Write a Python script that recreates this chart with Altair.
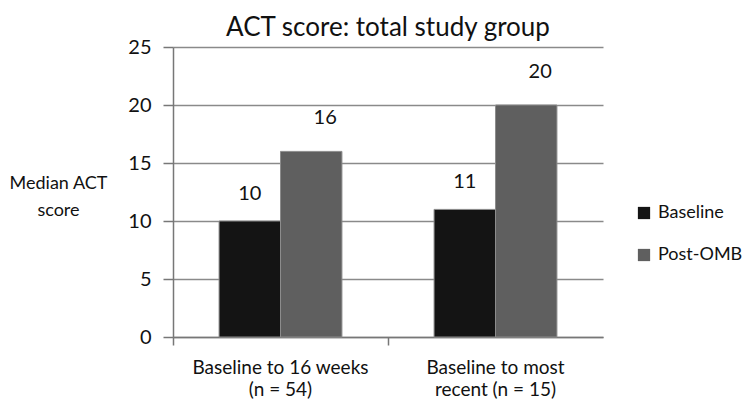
import altair as alt
import pandas as pd

groups = ["Baseline to 16 weeks|(n = 54)", "Baseline to most|recent (n = 15)"]
series = ["Baseline", "Post-OMB"]
baseline = [10, 11]
post_omb = [16, 20]
colors = ["#141414", "#5f5f5f"]

rows = []
for g, b, p in zip(groups, baseline, post_omb):
    rows.append({"group": g, "series": series[0], "value": b})
    rows.append({"group": g, "series": series[1], "value": p})
df = pd.DataFrame(rows)

FONT = "Lato"

x_enc = alt.X(
    "group:N", sort=groups, title=None,
    scale=alt.Scale(paddingInner=0, paddingOuter=0),
    axis=alt.Axis(
        labelExpr="split(datum.label, '|')", labelAngle=0, labelFontSize=19,
        labelLineHeight=22, labelPadding=13, labelColor="#111", labelLimit=400,
        ticks=True, tickSize=8, tickColor="#777", tickWidth=1.5, bandPosition=0,
        domainColor="#777", domainWidth=1.5, grid=False,
    ),
)
y_enc = alt.Y(
    "value:Q",
    scale=alt.Scale(domain=[0, 25], nice=False),
    axis=alt.Axis(
        values=[0, 5, 10, 15, 20, 25], title="Median ACT|score".split("|"),
        titleAngle=0, titleX=-115, titleY=136, titleAlign="center",
        titleBaseline="middle", titleFontSize=18, titleFontWeight="normal",
        titleLineHeight=27, titleColor="#111",
        labelFontSize=20, labelPadding=12, labelColor="#111",
        tickSize=10, tickColor="#777", tickWidth=1.5,
        domainColor="#777", domainWidth=1.5,
        grid=True, gridColor="#8a8a8a", gridWidth=1.5,
    ),
)
xoff = alt.XOffset("series:N", sort=series,
                   scale=alt.Scale(paddingOuter=0.75, paddingInner=0))

bars = alt.Chart(df).mark_bar(stroke="#8c8c8c", strokeWidth=1).encode(
    x=x_enc, y=y_enc, xOffset=xoff,
    color=alt.Color(
        "series:N", sort=series,
        scale=alt.Scale(domain=series, range=colors),
        legend=alt.Legend(
            title=None, orient="none", legendX=462, legendY=157,
            symbolType="square", symbolSize=150, symbolStrokeWidth=0,
            labelFontSize=18, labelColor="#111", rowPadding=24, labelOffset=5,
            labelLimit=200,
        ),
    ),
)

lab_base = alt.Chart(df).transform_filter(alt.datum.series == series[0]).mark_text(
    fontSize=20, font=FONT, dy=-27, baseline="middle", color="#111"
).encode(x=alt.X("group:N", sort=groups), y="value:Q", xOffset=xoff, text="value:Q")

lab_post = alt.Chart(df).transform_filter(alt.datum.series == series[1]).mark_text(
    fontSize=20, font=FONT, dy=-33, dx=14, baseline="middle", color="#111"
).encode(x=alt.X("group:N", sort=groups), y="value:Q", xOffset=xoff, text="value:Q")

chart = alt.layer(bars, lab_base, lab_post).properties(
    width=430, height=290,
    title=alt.Title("ACT score: total study group", fontSize=26, fontWeight="normal",
                    font=FONT, color="#111", anchor="middle", offset=-4),
    autosize=alt.AutoSizeParams(type="none"),
    padding={"left": 165, "top": 39, "right": 139, "bottom": 69},
).configure(font=FONT).configure_view(stroke=None)

chart.save("out.html", embed_options={"renderer": "svg", "actions": False})
